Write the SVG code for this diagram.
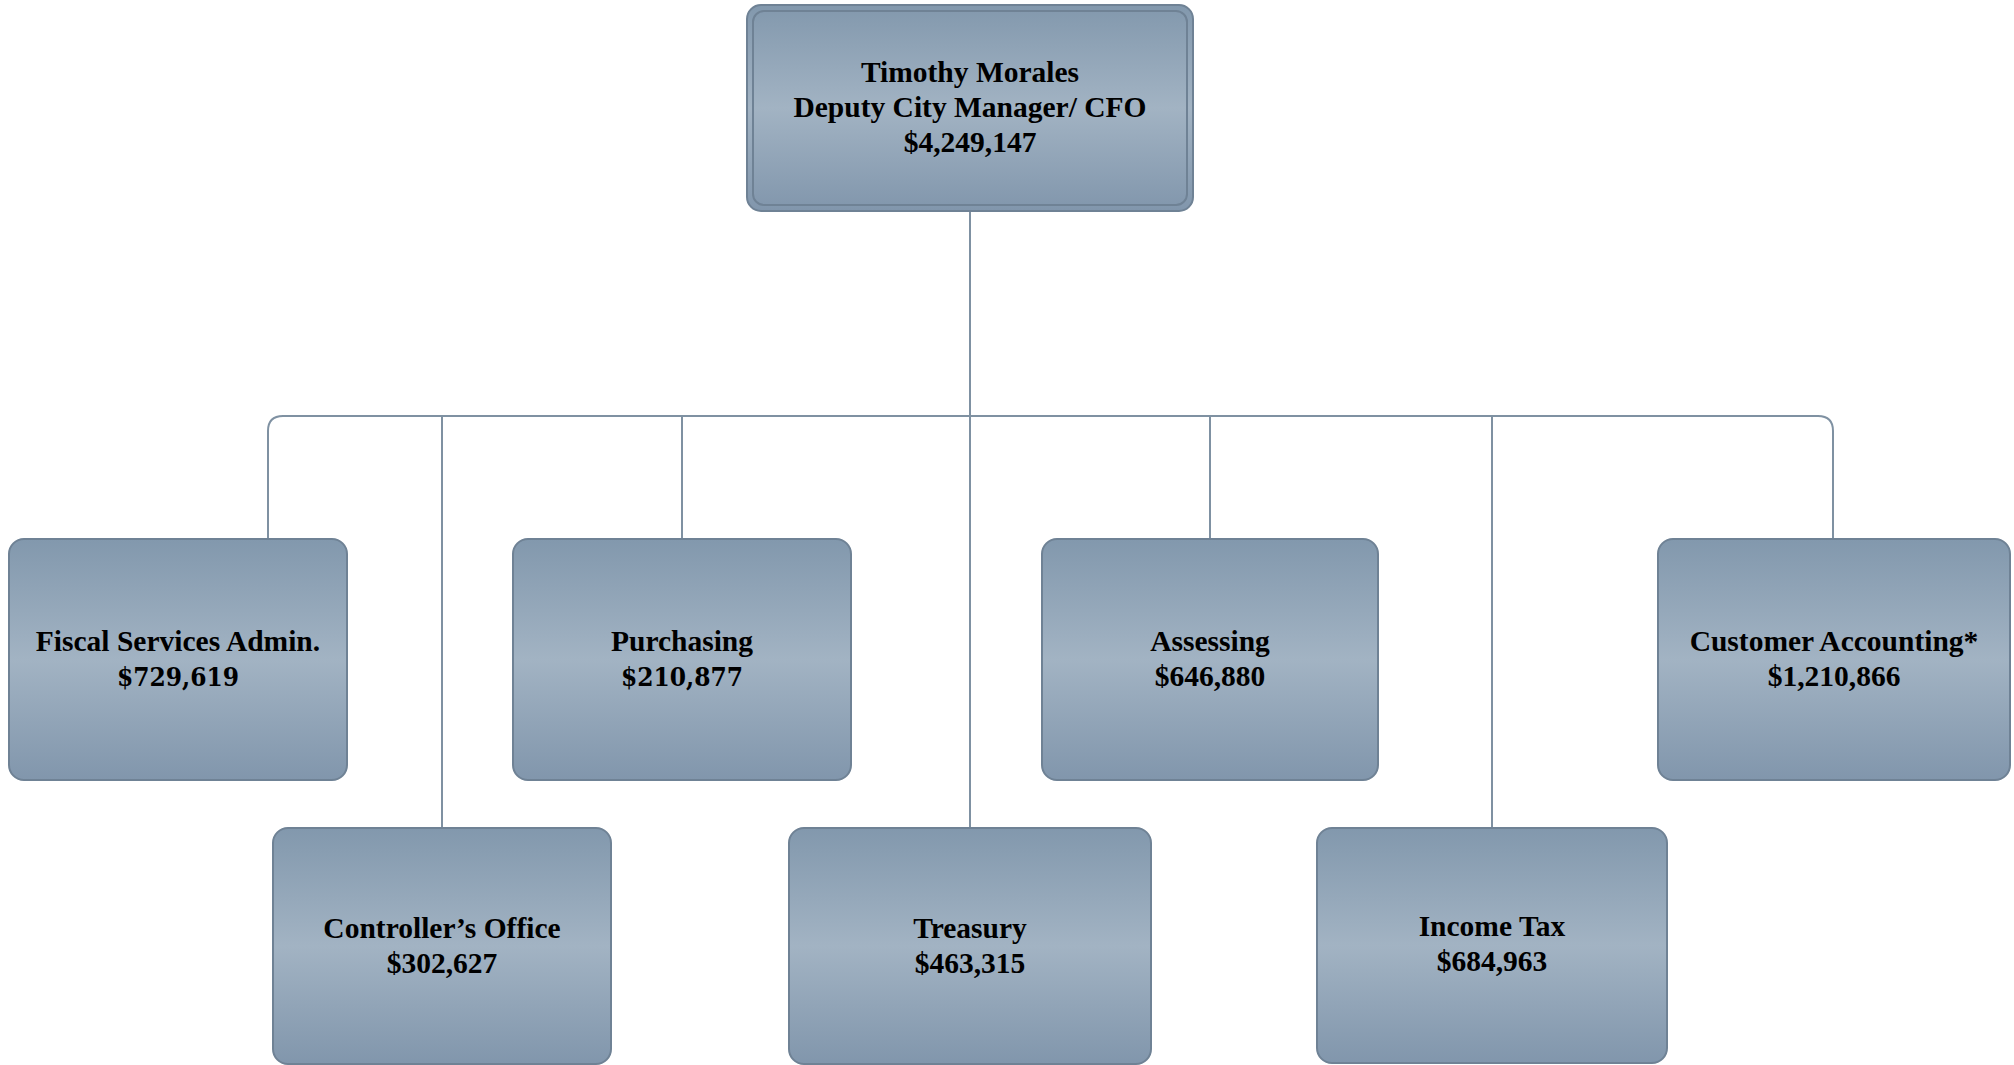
<svg xmlns="http://www.w3.org/2000/svg" width="2014" height="1065" viewBox="0 0 2014 1065">
  <defs>
    <linearGradient id="g" x1="0" y1="0" x2="0" y2="1">
      <stop offset="0" stop-color="#8298ad"/>
      <stop offset="0.5" stop-color="#a2b3c3"/>
      <stop offset="1" stop-color="#8196ac"/>
    </linearGradient>
    <style>
      .box { fill: url(#g); stroke: #6f8295; stroke-width: 2; }
      .inner { fill: none; stroke: #6f8295; stroke-width: 2; }
      .lbl { font-family: "Liberation Serif", "Times New Roman", serif; font-weight: bold; font-size: 29.5px; fill: #000; text-anchor: middle; }
      .alt { font-family: "DejaVu Serif Condensed", "DejaVu Serif", serif; font-stretch: condensed; font-size: 26px; }
      .con { fill: none; stroke: #7f91a2; stroke-width: 2; }
    </style>
  </defs>
  <rect width="2014" height="1065" fill="#ffffff"/>

  <g id="connectors">
    <path class="con" d="M970 211 V828"/>
    <path class="con" d="M268 539 V431 Q268 416 283 416 H1818 Q1833 416 1833 431 V539"/>
    <path class="con" d="M442 416 V828"/>
    <path class="con" d="M682 416 V539"/>
    <path class="con" d="M1210 416 V539"/>
    <path class="con" d="M1492 416 V828"/>
  </g>

  <g id="node-cfo">
    <rect class="box" x="747" y="5" width="446" height="206" rx="14"/>
    <rect class="inner" x="753" y="11" width="434" height="194" rx="11"/>
    <text class="lbl" x="970" y="82">Timothy Morales</text>
    <text class="lbl" x="970" y="117">Deputy City Manager/ CFO</text>
    <text class="lbl" x="970" y="152">$4,249,147</text>
  </g>

  <g id="node-fiscal">
    <rect class="box" x="9" y="539" width="338" height="241" rx="15"/>
    <text class="lbl" x="178" y="651">Fiscal Services Admin.</text>
    <text class="lbl alt" x="178" y="686">$729,619</text>
  </g>

  <g id="node-purchasing">
    <rect class="box" x="513" y="539" width="338" height="241" rx="15"/>
    <text class="lbl" x="682" y="651">Purchasing</text>
    <text class="lbl alt" x="682" y="686">$210,877</text>
  </g>

  <g id="node-assessing">
    <rect class="box" x="1042" y="539" width="336" height="241" rx="15"/>
    <text class="lbl" x="1210" y="651">Assessing</text>
    <text class="lbl" x="1210" y="686">$646,880</text>
  </g>

  <g id="node-customer">
    <rect class="box" x="1658" y="539" width="352" height="241" rx="15"/>
    <text class="lbl" x="1834" y="651">Customer Accounting*</text>
    <text class="lbl" x="1834" y="686">$1,210,866</text>
  </g>

  <g id="node-controller">
    <rect class="box" x="273" y="828" width="338" height="236" rx="15"/>
    <text class="lbl" x="442" y="938">Controller’s Office</text>
    <text class="lbl" x="442" y="973">$302,627</text>
  </g>

  <g id="node-treasury">
    <rect class="box" x="789" y="828" width="362" height="236" rx="15"/>
    <text class="lbl" x="970" y="938">Treasury</text>
    <text class="lbl" x="970" y="973">$463,315</text>
  </g>

  <g id="node-incometax">
    <rect class="box" x="1317" y="828" width="350" height="235" rx="15"/>
    <text class="lbl" x="1492" y="936">Income Tax</text>
    <text class="lbl" x="1492" y="971">$684,963</text>
  </g>
</svg>
